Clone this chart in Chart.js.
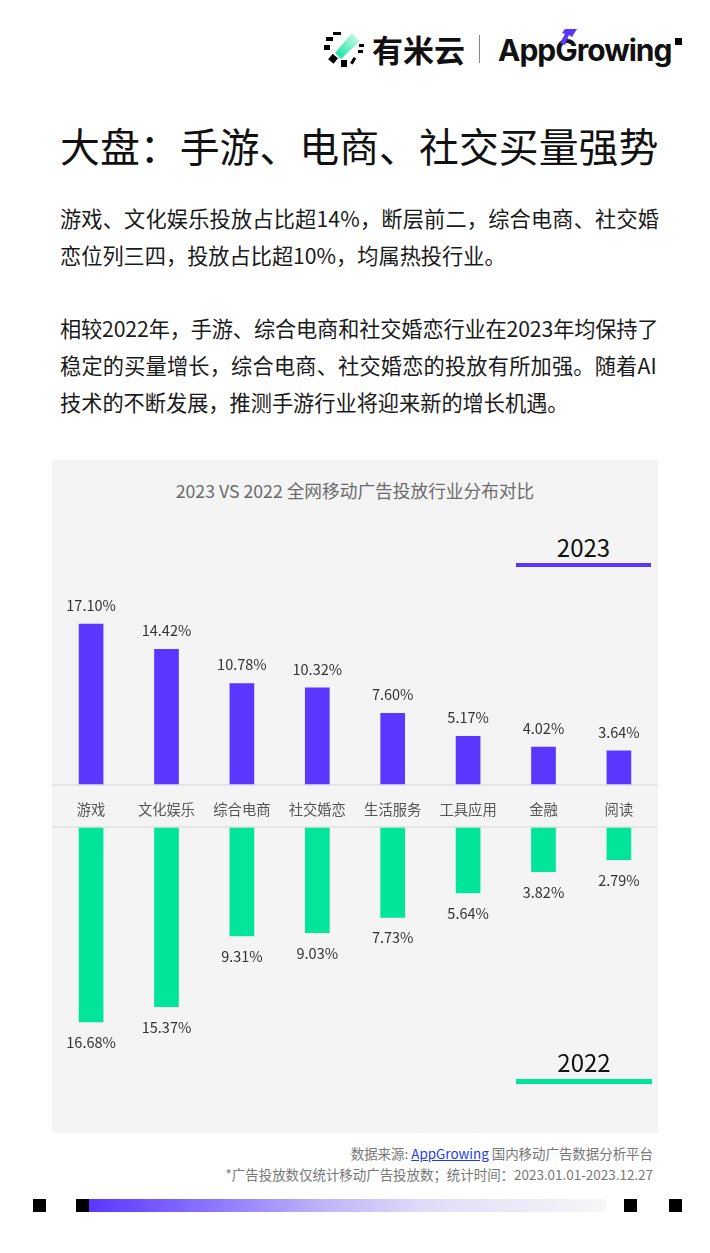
<!DOCTYPE html>
<html lang="zh">
<head>
<meta charset="utf-8">
<script src="https://cdn.jsdelivr.net/npm/chart.js@4"></script>
<style>
  html, body { margin: 0; padding: 0; background: #fff; }
  body { position: relative; width: 710px; height: 1253px; overflow: hidden; font-family: "Noto Sans CJK SC", "Noto Sans", sans-serif; }
  .abs { position: absolute; white-space: nowrap; }
  .line { position: absolute; left: 60px; white-space: nowrap; font-size: 21.2px; line-height: 30px; color: #1a1a1a; }
  .foot { position: absolute; right: 57px; white-space: nowrap; font-size: 13.45px; line-height: 20px; color: #777; }
  .foot a { color: #1a3cf0; text-decoration: underline; }
  .sq { position: absolute; top: 1199px; width: 13px; height: 13px; background: #000; }
  canvas { position: absolute; }
</style>
</head>
<body>
<!-- logo -->
<svg class="abs" style="left:322px;top:29px" width="44" height="40" viewBox="0 0 44 40">
  <defs><linearGradient id="g" x1="0" y1="1" x2="1" y2="0"><stop offset="0" stop-color="#00e599"/><stop offset="1" stop-color="#e4fbf1"/></linearGradient></defs>
  <polygon points="13,24 30,4 38,12 19,30" fill="url(#g)"/>
  <g fill="#000">
    <rect x="11" y="3" width="8" height="3"/><rect x="4" y="8" width="7" height="4"/><rect x="2" y="16" width="6" height="5"/>
    <rect x="8" y="26" width="7" height="7" transform="rotate(40 11 29)"/><rect x="19" y="31" width="6" height="7"/>
    <rect x="30" y="28" width="3" height="7" transform="rotate(30 31 31)"/><rect x="36" y="21" width="5" height="3"/><rect x="37" y="15" width="5" height="3"/>
  </g>
</svg>
<div class="abs" style="left:372px;top:26px;font-size:31px;line-height:46px;font-weight:700;color:#111">有米云</div>
<div class="abs" style="left:479px;top:35px;width:1px;height:28px;background:#888"></div>
<div class="abs" style="left:498px;top:28px;font-size:30px;line-height:44px;font-weight:700;color:#111;font-family:'Inter','Noto Sans',sans-serif;letter-spacing:-1px">AppGrowing</div>
<svg class="abs" style="left:557px;top:29px" width="24" height="18" viewBox="0 0 24 18"><polygon points="8,0 20,0 15,8 12,6 8,16 3,14 8,5 5,4" fill="#5b36ff"/></svg>
<div class="abs" style="left:675px;top:38px;width:7px;height:7px;background:#000"></div>

<!-- headline -->
<div class="abs" style="left:60px;top:115px;font-size:39.9px;line-height:60px;color:#111">大盘：手游、电商、社交买量强势</div>
<div class="line" style="top:203px;letter-spacing:0.18px">游戏、文化娱乐投放占比超14%，断层前二，综合电商、社交婚</div>
<div class="line" style="top:240px">恋位列三四，投放占比超10%，均属热投行业。</div>
<div class="line" style="top:313px;letter-spacing:-0.13px">相较2022年，手游、综合电商和社交婚恋行业在2023年均保持了</div>
<div class="line" style="top:350px;letter-spacing:0.2px">稳定的买量增长，综合电商、社交婚恋的投放有所加强。随着AI</div>
<div class="line" style="top:387px">技术的不断发展，推测手游行业将迎来新的增长机遇。</div>

<!-- chart panel -->
<div class="abs" style="left:52px;top:460px;width:606px;height:673px;background:#f4f4f4"></div>
<div class="abs" style="left:52px;width:606px;top:477px;text-align:center;font-size:17.7px;line-height:26px;color:#6b6b6b">2023 VS 2022 全网移动广告投放行业分布对比</div>
<canvas id="chart2023" width="606" height="212" style="left:52px;top:575px"></canvas>
<canvas id="chart2022" width="606" height="348" style="left:52px;top:785px"></canvas>
<div class="abs" style="left:516px;width:135px;top:529px;text-align:center;font-size:24px;line-height:36px;color:#111">2023</div>
<div class="abs" style="left:516px;width:135px;top:563px;height:4px;background:#5b36ff"></div>
<div class="abs" style="left:516px;width:136px;top:1044px;text-align:center;font-size:24px;line-height:36px;color:#111">2022</div>
<div class="abs" style="left:516px;width:136px;top:1079px;height:5px;background:#00e599"></div>

<!-- source notes -->
<div class="foot" style="top:1143px">数据来源: <a>AppGrowing</a> 国内移动广告数据分析平台</div>
<div class="foot" style="top:1164px">*广告投放数仅统计移动广告投放数；统计时间：2023.01.01-2023.12.27</div>

<!-- footer strip -->
<div class="sq" style="left:33px"></div>
<div class="sq" style="left:76px"></div>
<div class="abs" style="left:89px;top:1199px;width:517px;height:13px;background:linear-gradient(90deg,#5b36ff 0%,#8f78ff 25%,#bfb3f8 45%,#e0dcf8 65%,#f7f7f7 100%)"></div>
<div class="sq" style="left:624px"></div>
<div class="sq" style="left:669px"></div>

<script>
var categories = ["游戏", "文化娱乐", "综合电商", "社交婚恋", "生活服务", "工具应用", "金融", "阅读"];
var values2023 = [17.10, 14.42, 10.78, 10.32, 7.60, 5.17, 4.02, 3.64];
var values2022 = [16.68, 15.37, 9.31, 9.03, 7.73, 5.64, 3.82, 2.79];

var FONT = '"Noto Sans CJK SC", "Noto Sans", sans-serif';

// value labels next to each bar, plus the grey rule across the panel
var barLabels = {
	id: 'barLabels',
	afterDraw: function(chart, args, opts) {
		var ctx = chart.ctx;
		ctx.save();
		ctx.strokeStyle = '#e0e0e0';
		ctx.lineWidth = 1.5;
		ctx.beginPath();
		ctx.moveTo(0, opts.ruleY(chart));
		ctx.lineTo(chart.width, opts.ruleY(chart));
		ctx.stroke();
		ctx.fillStyle = '#333';
		ctx.font = '14.5px ' + FONT;
		ctx.textAlign = 'center';
		ctx.textBaseline = 'middle';
		chart.getDatasetMeta(0).data.forEach(function(bar, i) {
			var v = chart.data.datasets[0].data[i];
			ctx.fillText(v.toFixed(2) + '%', bar.x, bar.y + opts.offset);
		});
		ctx.restore();
	}
};

function makeChart(id, label, data, color, yMax, xOptions, layoutPadding, labelOpts, reverse) {
	return new Chart(document.getElementById(id), {
		type: 'bar',
		data: {
			labels: categories,
			datasets: [{ label: label, data: data, backgroundColor: color, barThickness: 24 }]
		},
		options: {
			responsive: false,
			animation: false,
			layout: { padding: layoutPadding },
			plugins: { legend: { display: false }, tooltip: { enabled: false }, barLabels: labelOpts },
			scales: {
				x: xOptions,
				y: { display: false, min: 0, max: yMax, reverse: reverse }
			}
		},
		plugins: [barLabels]
	});
}

makeChart('chart2023', '2023', values2023, '#5b36ff', 22.3,
	{ display: false },
	{ left: 1.4, right: 1.4, top: 0, bottom: 2 },
	{ offset: -18.5, ruleY: function(c) { return c.chartArea.bottom; } },
	false);

makeChart('chart2022', '2022', values2022, '#00e599', 26.18,
	{
		position: 'top',
		grid: { display: false },
		border: { display: false },
		afterFit: function(scale) { scale.height = 42; },
		ticks: {
			color: '#555',
			font: { size: 14.3, family: FONT },
			maxRotation: 0,
			autoSkip: false,
			padding: 1
		}
	},
	{ left: 1.4, right: 1.4, top: 0, bottom: 0 },
	{ offset: 20.5, ruleY: function(c) { return c.chartArea.top; } },
	true);
</script>
</body>
</html>
